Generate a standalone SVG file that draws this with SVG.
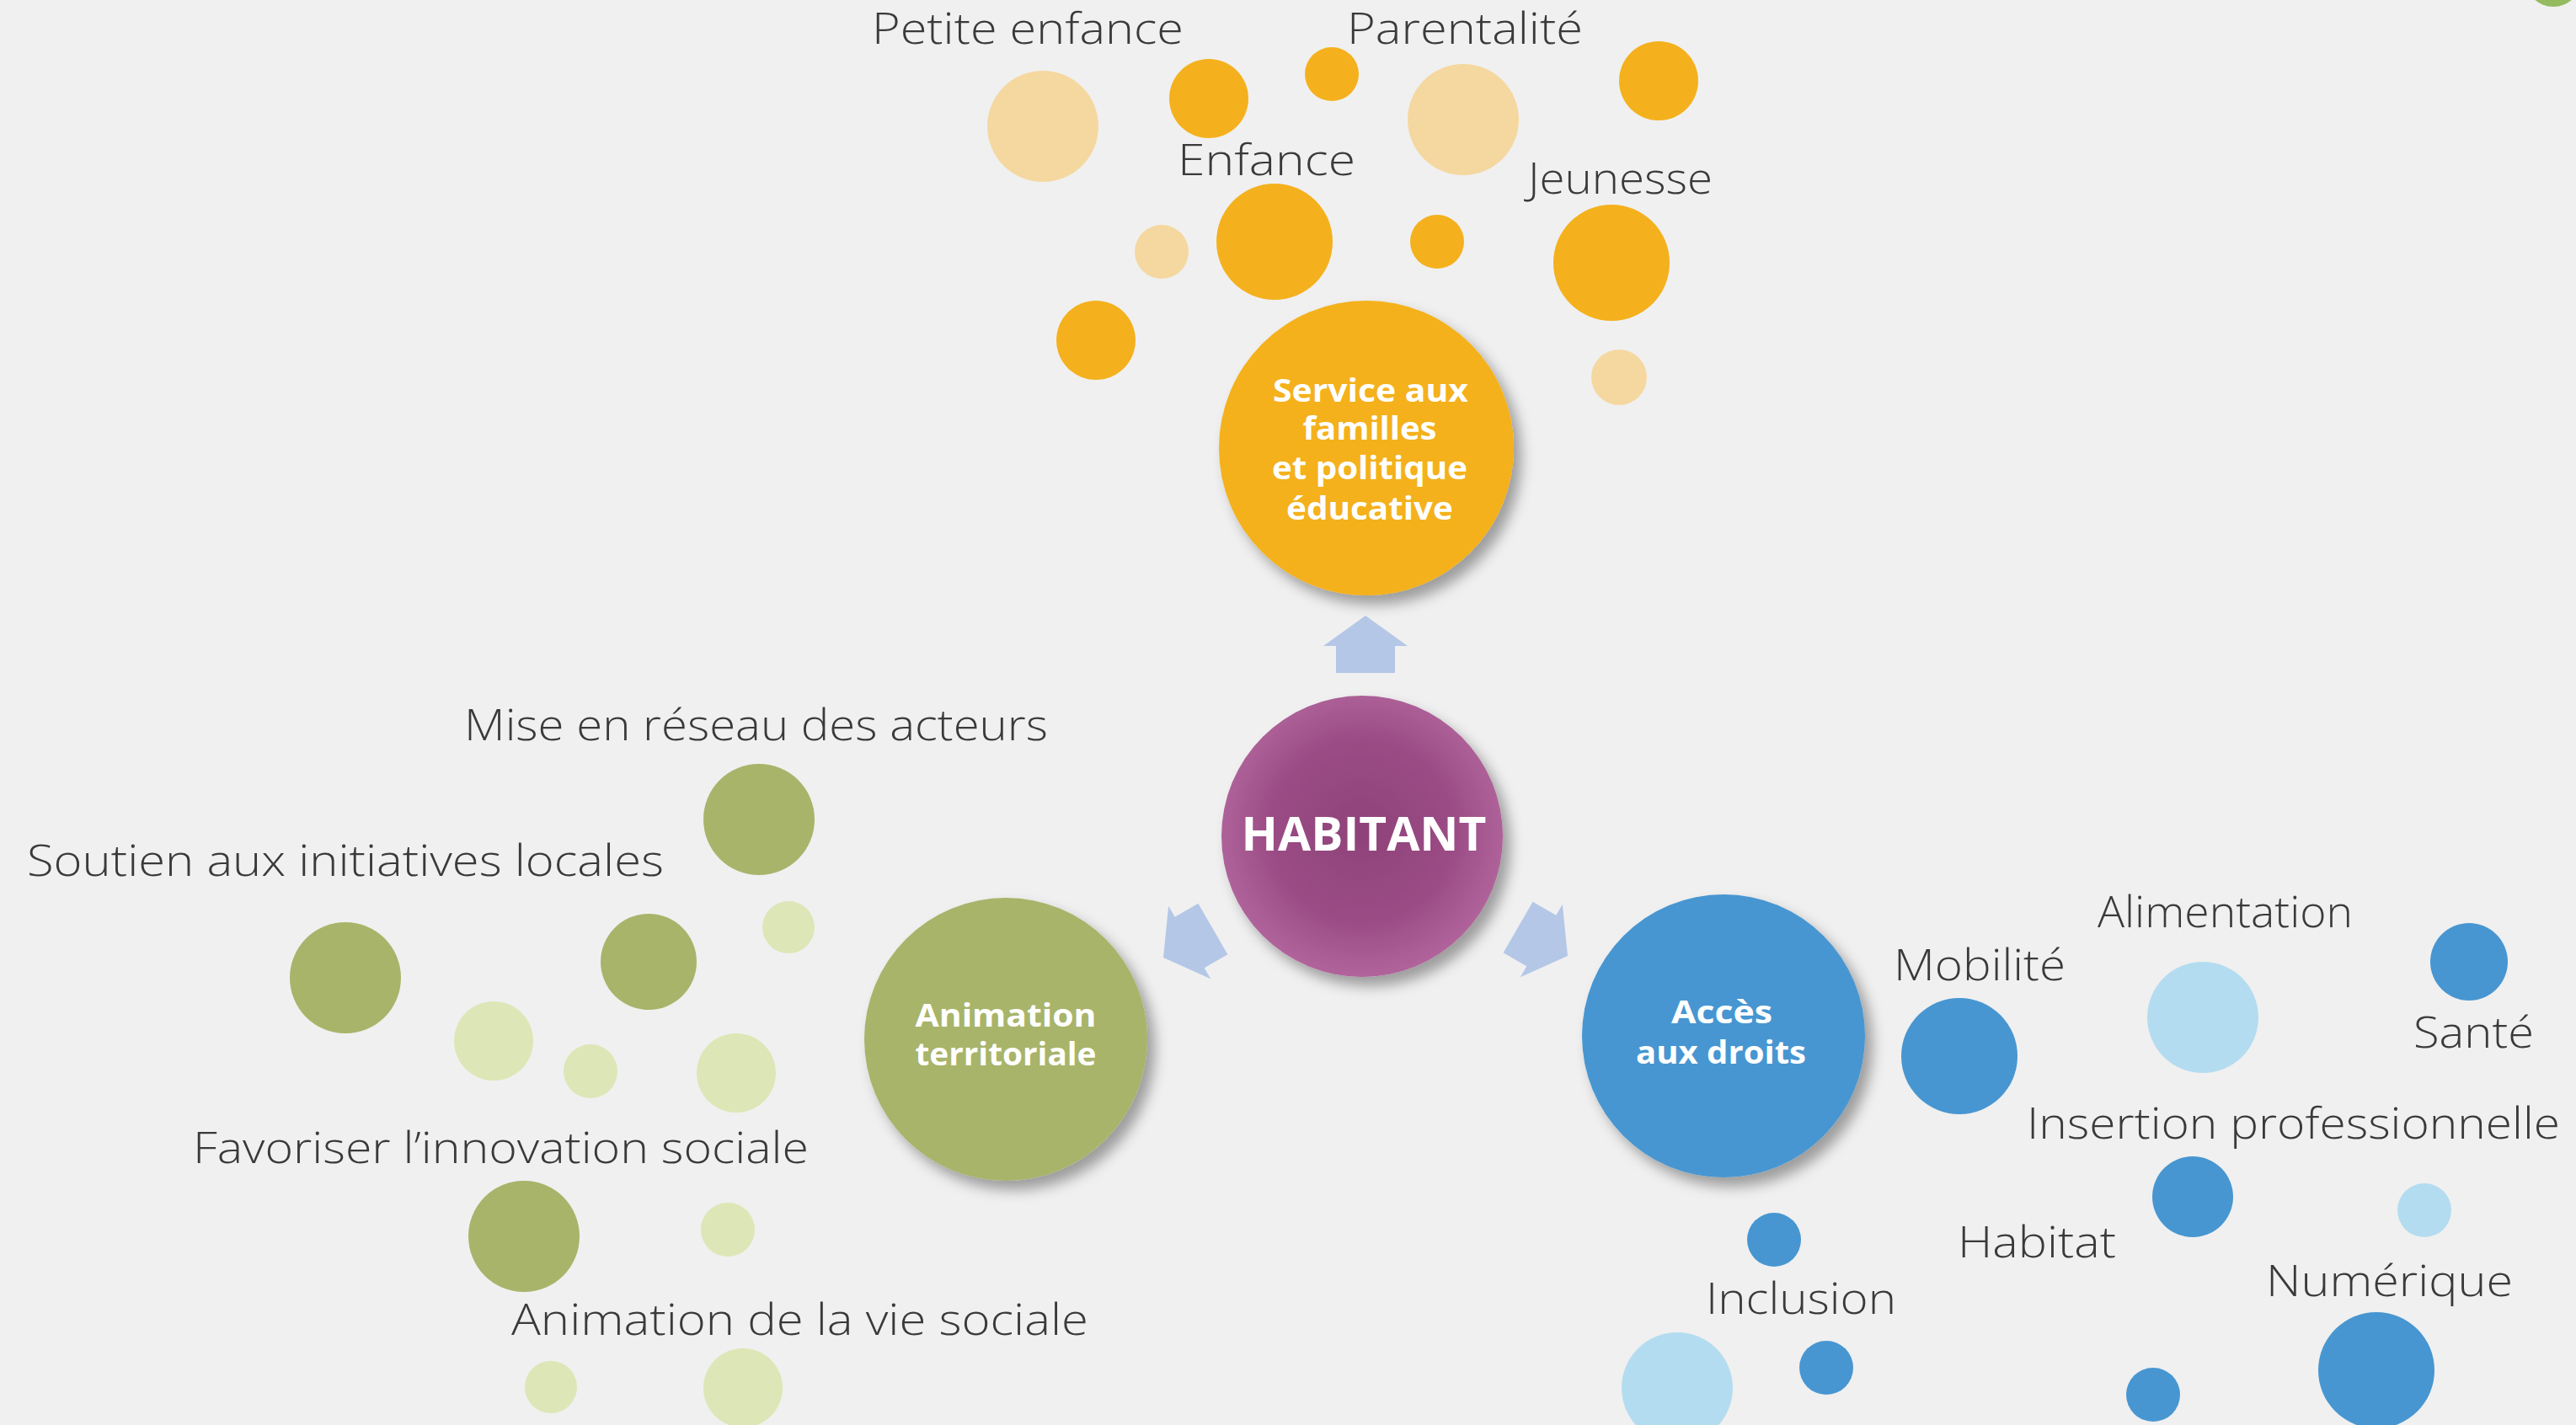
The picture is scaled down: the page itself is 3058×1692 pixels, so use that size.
<svg xmlns="http://www.w3.org/2000/svg" width="3058" height="1692" viewBox="0 0 3058 1692">
<defs>
<style>
.lbl{font-family:"Open Sans","Liberation Sans",sans-serif;font-weight:300;font-size:52px;fill:#3a3a3a}
.in{font-family:"Open Sans","Liberation Sans",sans-serif;font-weight:700;font-size:37px;fill:#ffffff;text-anchor:middle}
.yd{fill:#f4b11d}.yl{fill:#f5d8a0}
.gd{fill:#a8b46a}.gl{fill:#dde6b6}
.bd{fill:#4796d1}.bl{fill:#b4dcf0}
.arr{fill:#b4c7e7}
</style>
<radialGradient id="pur" cx="50%" cy="48%" r="55%">
<stop offset="0" stop-color="#8e4279"/>
<stop offset="0.6" stop-color="#9b4c85"/>
<stop offset="1" stop-color="#b4689f"/>
</radialGradient>
<filter id="sh" x="-20%" y="-20%" width="150%" height="150%">
<feDropShadow dx="9" dy="11" stdDeviation="8" flood-color="#000" flood-opacity="0.35"/>
</filter>
<path id="arrow" d="M0 0 L50 36 L35 36 L35 68 L-35 68 L-35 36 L-50 36 Z"/>
</defs>
<rect width="3058" height="1692" fill="#f0f0f0"/>
<circle cx="3031" cy="-25" r="33" fill="#94bb5f"/>

<g id="connectors">
<use href="#arrow" class="arr" transform="translate(1621,731)"/>
<use href="#arrow" class="arr" transform="translate(1381,1137) rotate(-120)"/>
<use href="#arrow" class="arr" transform="translate(1861,1135) rotate(120)"/>
</g>

<g id="famille-bubbles">
<circle class="yl" cx="1238" cy="150" r="66"/>
<circle class="yd" cx="1435" cy="117" r="47"/>
<circle class="yd" cx="1581" cy="88" r="32"/>
<circle class="yl" cx="1737" cy="142" r="66"/>
<circle class="yd" cx="1969" cy="96" r="47"/>
<circle class="yl" cx="1379" cy="299" r="32"/>
<circle class="yd" cx="1513" cy="287" r="69"/>
<circle class="yd" cx="1706" cy="287" r="32"/>
<circle class="yd" cx="1913" cy="312" r="69"/>
<circle class="yd" cx="1301" cy="404" r="47"/>
<circle class="yl" cx="1922" cy="448" r="33"/>
<text class="lbl" x="1035" y="52" textLength="370" lengthAdjust="spacingAndGlyphs">Petite enfance</text>
<text class="lbl" x="1599" y="52" textLength="280" lengthAdjust="spacingAndGlyphs">Parentalité</text>
<text class="lbl" x="1398" y="208" textLength="211" lengthAdjust="spacingAndGlyphs">Enfance</text>
<text class="lbl" x="1814" y="230" textLength="219" lengthAdjust="spacingAndGlyphs">Jeunesse</text>
</g>

<g id="service">
<circle class="yd" cx="1622" cy="532" r="175" filter="url(#sh)"/>
<text class="in" x="1627" y="477" textLength="232" lengthAdjust="spacingAndGlyphs">Service aux</text>
<text class="in" x="1626" y="522" textLength="159" lengthAdjust="spacingAndGlyphs">familles</text>
<text class="in" x="1626" y="569" textLength="232" lengthAdjust="spacingAndGlyphs">et politique</text>
<text class="in" x="1626" y="617" textLength="198" lengthAdjust="spacingAndGlyphs">éducative</text>
</g>

<g id="habitant">
<circle cx="1617" cy="993" r="167" fill="url(#pur)" filter="url(#sh)"/>
<text class="in" x="1619" y="1010" font-size="55" textLength="291" lengthAdjust="spacingAndGlyphs" style="font-size:55px">HABITANT</text>
</g>

<g id="animation">
<circle class="gd" cx="1194" cy="1234" r="168" filter="url(#sh)"/>
<text class="in" x="1194" y="1219" textLength="215" lengthAdjust="spacingAndGlyphs">Animation</text>
<text class="in" x="1194" y="1265" textLength="215" lengthAdjust="spacingAndGlyphs">territoriale</text>
</g>

<g id="animation-bubbles">
<circle class="gd" cx="901" cy="973" r="66"/>
<circle class="gl" cx="936" cy="1101" r="31"/>
<circle class="gd" cx="410" cy="1161" r="66"/>
<circle class="gd" cx="770" cy="1142" r="57"/>
<circle class="gl" cx="586" cy="1236" r="47"/>
<circle class="gl" cx="701" cy="1272" r="32"/>
<circle class="gl" cx="874" cy="1274" r="47"/>
<circle class="gd" cx="622" cy="1468" r="66"/>
<circle class="gl" cx="864" cy="1460" r="32"/>
<circle class="gl" cx="654" cy="1647" r="31"/>
<circle class="gl" cx="882" cy="1648" r="47"/>
<text class="lbl" x="551" y="879" textLength="693" lengthAdjust="spacingAndGlyphs">Mise en réseau des acteurs</text>
<text class="lbl" x="32" y="1040" textLength="756" lengthAdjust="spacingAndGlyphs">Soutien aux initiatives locales</text>
<text class="lbl" x="229" y="1381" textLength="731" lengthAdjust="spacingAndGlyphs">Favoriser l’innovation sociale</text>
<text class="lbl" x="607" y="1585" textLength="685" lengthAdjust="spacingAndGlyphs">Animation de la vie sociale</text>
</g>

<g id="acces">
<circle class="bd" cx="2046" cy="1230" r="168" filter="url(#sh)"/>
<text class="in" x="2044" y="1215" textLength="120" lengthAdjust="spacingAndGlyphs">Accès</text>
<text class="in" x="2043" y="1263" textLength="202" lengthAdjust="spacingAndGlyphs">aux droits</text>
</g>

<g id="acces-bubbles">
<circle class="bd" cx="2326" cy="1254" r="69"/>
<circle class="bl" cx="2615" cy="1208" r="66"/>
<circle class="bd" cx="2931" cy="1142" r="46"/>
<circle class="bd" cx="2603" cy="1421" r="48"/>
<circle class="bl" cx="2878" cy="1437" r="32"/>
<circle class="bd" cx="2106" cy="1472" r="32"/>
<circle class="bl" cx="1991" cy="1648" r="66"/>
<circle class="bd" cx="2168" cy="1624" r="32"/>
<circle class="bd" cx="2556" cy="1656" r="32"/>
<circle class="bd" cx="2821" cy="1627" r="69"/>
<text class="lbl" x="2490" y="1101" textLength="303" lengthAdjust="spacingAndGlyphs">Alimentation</text>
<text class="lbl" x="2248" y="1164" textLength="204" lengthAdjust="spacingAndGlyphs">Mobilité</text>
<text class="lbl" x="2865" y="1244" textLength="143" lengthAdjust="spacingAndGlyphs">Santé</text>
<text class="lbl" x="2406" y="1352" textLength="633" lengthAdjust="spacingAndGlyphs">Insertion professionnelle</text>
<text class="lbl" x="2324" y="1493" textLength="188" lengthAdjust="spacingAndGlyphs">Habitat</text>
<text class="lbl" x="2025" y="1560" textLength="226" lengthAdjust="spacingAndGlyphs">Inclusion</text>
<text class="lbl" x="2690" y="1539" textLength="293" lengthAdjust="spacingAndGlyphs">Numérique</text>
</g>
</svg>
